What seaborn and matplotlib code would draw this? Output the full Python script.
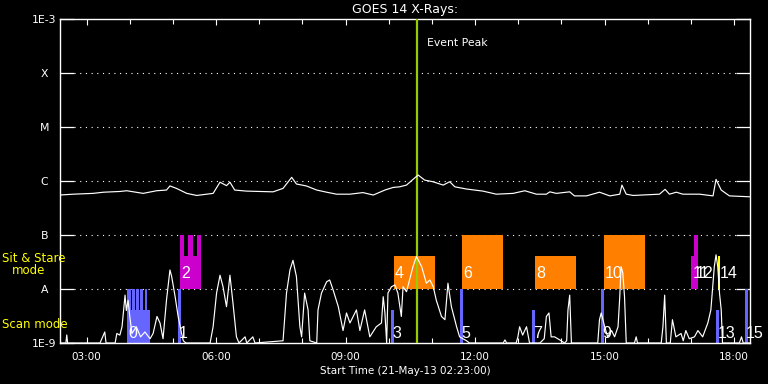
import numpy as np
import pandas as pd
import matplotlib
matplotlib.use("Agg")
import matplotlib.pyplot as plt
from matplotlib.ticker import FixedLocator, NullLocator
import seaborn as sns

# ---------------- data ----------------
# GOES long channel (decimal hours, W/m^2)
long_time = [2.38, 2.69, 3.15, 3.39, 3.77, 3.93, 4.31, 4.62, 4.85, 4.93, 5.08, 5.32, 5.55,
             5.93, 6.09, 6.24, 6.32, 6.43, 6.70, 7.32, 7.55, 7.75, 7.86, 8.09, 8.33, 8.56,
             8.79, 9.10, 9.40, 9.64, 9.91, 10.10, 10.25, 10.41, 10.56, 10.68, 10.83, 11.02,
             11.26, 11.41, 11.53, 11.80, 12.18, 12.49, 12.88, 13.15, 13.42, 13.65, 13.73,
             13.88, 14.19, 14.30, 14.58, 14.88, 15.12, 15.35, 15.40, 15.50, 15.66, 16.27,
             16.40, 16.50, 16.66, 16.81, 17.20, 17.51, 17.58, 17.70, 17.89, 18.36]
long_flux = [5.5e-7, 5.7e-7, 5.9e-7, 6.2e-7, 6.4e-7, 6.6e-7, 5.9e-7, 6.6e-7, 6.8e-7, 8.1e-7,
             7.3e-7, 5.9e-7, 5.4e-7, 5.9e-7, 9.5e-7, 8.2e-7, 9.5e-7, 6.8e-7, 6.5e-7, 6.3e-7,
             7.3e-7, 1.17e-6, 8.8e-7, 8.1e-7, 6.8e-7, 6.2e-7, 5.7e-7, 5.7e-7, 6.1e-7, 5.5e-7,
             6.8e-7, 7.6e-7, 7.8e-7, 8.4e-7, 1.07e-6, 1.29e-6, 1.04e-6, 9.7e-7, 8.4e-7, 9.7e-7,
             7.8e-7, 7.1e-7, 6.5e-7, 5.7e-7, 5.9e-7, 6.6e-7, 5.7e-7, 5.7e-7, 6.3e-7, 5.9e-7,
             6.3e-7, 5.3e-7, 5.3e-7, 6.2e-7, 5.3e-7, 5.7e-7, 8.4e-7, 5.7e-7, 5.4e-7, 5.7e-7,
             7.0e-7, 5.7e-7, 6.2e-7, 5.7e-7, 5.7e-7, 5.3e-7, 1.07e-6, 6.8e-7, 5.3e-7, 5.1e-7]

# GOES short channel
short_time = [2.38, 2.52, 2.54, 2.56, 3.31, 3.42, 3.45, 3.66, 3.70, 3.77, 3.82, 3.89, 3.92,
              3.96, 4.00, 4.05, 4.15, 4.25, 4.35, 4.47, 4.54, 4.63, 4.70, 4.77, 4.85, 4.93,
              4.97, 5.05, 5.12, 5.20, 5.24, 5.30, 5.86, 5.93, 6.01, 6.09, 6.16, 6.24, 6.32,
              6.39, 6.47, 6.53, 6.67, 6.71, 6.85, 6.90, 7.55, 7.63, 7.71, 7.78, 7.86, 7.94,
              7.98, 8.05, 8.13, 8.17, 8.33, 8.36, 8.44, 8.56, 8.63, 8.71, 8.83, 8.94, 9.02,
              9.10, 9.25, 9.33, 9.44, 9.56, 9.71, 9.83, 9.87, 9.91, 9.95, 9.98, 10.06, 10.14,
              10.21, 10.29, 10.33, 10.41, 10.48, 10.56, 10.64, 10.76, 10.87, 10.95, 11.03,
              11.10, 11.22, 11.30, 11.37, 11.45, 11.57, 11.64, 11.80, 11.87, 12.65, 12.69,
              12.73, 12.95, 12.99, 13.03, 13.10, 13.19, 13.26, 13.50, 13.60, 13.65, 13.71,
              13.76, 13.84, 13.96, 14.07, 14.12, 14.15, 14.19, 14.23, 14.84, 14.88, 14.92,
              15.00, 15.07, 15.16, 15.23, 15.31, 15.35, 15.38, 15.42, 15.46, 15.50, 15.69,
              15.73, 15.76, 16.31, 16.35, 16.39, 16.43, 16.52, 16.57, 16.65, 16.77, 16.82,
              16.88, 16.96, 17.08, 17.16, 17.27, 17.39, 17.46, 17.54, 17.58, 17.62, 17.66,
              17.70, 17.73, 18.12, 18.17, 18.21, 18.37]
short_flux = [1e-9, 1e-9, 1.41e-9, 1e-9, 1e-9, 1.6e-9, 1e-9, 1e-9, 1.5e-9, 1.4e-9, 2.0e-9,
              7.7e-9, 4.0e-9, 6.2e-9, 3.1e-9, 1.5e-9, 2.0e-9, 1.3e-9, 1.6e-9, 1.2e-9, 1.5e-9,
              3.1e-9, 2.35e-9, 1.2e-9, 6.2e-9, 2.25e-8, 1.7e-8, 7.2e-9, 3.1e-9, 1.5e-9,
              1.1e-9, 1e-9, 1e-9, 2.0e-9, 8.4e-9, 1.8e-8, 1.1e-8, 4.7e-9, 1.8e-8, 5.5e-9,
              1.3e-9, 1e-9, 1.3e-9, 1e-9, 1.3e-9, 1e-9, 1.1e-9, 8.4e-9, 2.25e-8, 3.4e-8,
              1.7e-8, 2.0e-9, 1.3e-9, 8.4e-9, 4.1e-9, 1.1e-9, 1e-9, 4.1e-9, 8.4e-9, 1.36e-8,
              1.47e-8, 9.6e-9, 4.7e-9, 1.7e-9, 3.6e-9, 2.35e-9, 4.1e-9, 1.7e-9, 4.1e-9,
              1.3e-9, 2.0e-9, 2.35e-9, 7.2e-9, 3.6e-9, 1e-9, 8.4e-9, 1.1e-8, 1.19e-8, 8.4e-9,
              3.1e-9, 1.1e-8, 8.9e-9, 1.47e-8, 2.6e-8, 4.0e-8, 2.6e-8, 1.28e-8, 1.47e-8,
              1.1e-8, 6.2e-9, 3.1e-9, 2.7e-9, 1.28e-8, 4.7e-9, 2.0e-9, 1.3e-9, 1.1e-9, 1e-9,
              1e-9, 1.14e-9, 1e-9, 1e-9, 1.3e-9, 2.0e-9, 1.4e-9, 2.0e-9, 1e-9, 1e-9, 1.2e-9,
              3.1e-9, 3.6e-9, 1.3e-9, 1.3e-9, 1.14e-9, 1e-9, 1.1e-9, 4.1e-9, 7.7e-9, 1e-9,
              1e-9, 2.7e-9, 3.6e-9, 2.0e-9, 1.3e-9, 1.7e-9, 1.3e-9, 2.0e-9, 7.2e-9, 2.6e-8,
              2.0e-8, 7.2e-9, 1e-9, 1e-9, 1.3e-9, 1e-9, 1e-9, 2.0e-9, 7.7e-9, 1e-9, 1e-9,
              2.7e-9, 1.3e-9, 1.5e-9, 1.1e-9, 1.7e-9, 1.2e-9, 1.3e-9, 1.7e-9, 1.3e-9, 2.35e-9,
              4.1e-9, 2.6e-8, 4.3e-8, 2.6e-8, 8.4e-9, 4.1e-9, 1e-9, 1e-9, 1.3e-9, 1e-9, 1e-9]

# observation segments (start, end in decimal hours; flux range of the box)
seg_start = [3.934, 3.934, 4.050, 4.143, 4.235, 4.344, 5.115, 5.161, 5.161, 5.346, 5.548,
             10.045, 10.115, 11.643, 11.689, 13.309, 13.378, 14.907, 14.976, 17.005,
             17.074, 17.583, 17.630, 18.240]
seg_end = [4.467, 4.020, 4.113, 4.205, 4.298, 4.404, 5.184, 5.647, 5.254, 5.455, 5.647,
           10.115, 11.064, 11.713, 12.638, 13.378, 14.328, 14.976, 15.925, 17.074,
           17.166, 17.652, 17.680, 18.310]
seg_low = [1e-9, 4.1e-9, 4.1e-9, 4.1e-9, 4.1e-9, 4.1e-9, 1e-9, 1e-8, 4.1e-8, 4.1e-8, 4.1e-8,
           1e-9, 1e-8, 1e-9, 1e-8, 1e-9, 1e-8, 1e-9, 1e-8, 1e-8, 1e-8, 1e-9, 1e-8, 1e-9]
seg_high = [4.1e-9, 1e-8, 1e-8, 1e-8, 1e-8, 1e-8, 1e-8, 4.1e-8, 1e-7, 1e-7, 1e-7,
            4.1e-9, 4.1e-8, 1e-8, 1e-7, 4.1e-9, 4.1e-8, 1e-8, 1e-7, 4.1e-8, 1e-7,
            4.1e-9, 4.1e-8, 1e-8]
seg_kind = ["scan"] * 7 + ["sns_m"] * 4 + ["scan", "sns", "scan", "sns", "scan", "sns",
            "scan", "sns", "sns_m", "sns_m", "scan", "sns_y", "scan"]

label_text = ["0", "1", "2", "3", "4", "5", "6", "7", "8", "9", "10", "11", "12", "13", "14", "15"]
label_time = [3.934, 5.115, 5.161, 10.045, 10.115, 11.643, 11.689, 13.309, 13.378, 14.907,
              14.976, 17.005, 17.074, 17.583, 17.630, 18.240]
label_mode = ["scan", "scan", "sns", "scan", "sns", "scan", "sns", "scan", "sns", "scan",
              "sns", "sns", "sns", "scan", "sns", "scan"]

peak_time = 10.65
t_start, t_end = 2 + 23 / 60, 18 + 22 / 60
class_levels = [1e-9, 1e-8, 1e-7, 1e-6, 1e-5, 1e-4, 1e-3]
class_labels = ["1E-9", "A", "B", "C", "M", "X", "1E-3"]
grid_levels = [1e-8, 1e-7, 1e-6, 1e-5, 1e-4]
major_hours = [3, 6, 9, 12, 15, 18]
minor_hours = [4, 5, 7, 8, 10, 11, 13, 14, 16, 17]

kind_color = {"scan": "#6666ff", "sns": "#ff8000", "sns_m": "#cc00cc", "sns_y": "#ffff00"}

# ---------------- plot ----------------
sns.set_style("dark")
plt.rcParams.update({
    "font.family": ["DejaVu Sans"],
    "axes.facecolor": "black",
    "figure.facecolor": "black",
    "text.color": "white",
    "axes.edgecolor": "white",
    "xtick.color": "white",
    "ytick.color": "white",
    "axes.grid": False,
    "lines.scale_dashes": False,
})

fig = plt.figure(figsize=(7.68, 3.84), dpi=100, facecolor="black")
ax = fig.add_axes([60 / 768, 41 / 384, 690 / 768, 324 / 384])
ax.set_facecolor("black")
ax.set_yscale("log")
ax.set_xlim(t_start, t_end)
ax.set_ylim(1e-9, 1e-3)

# observation boxes
seg = pd.DataFrame({"start": seg_start, "end": seg_end, "low": seg_low,
                    "high": seg_high, "kind": seg_kind})
for _, r in seg.iterrows():
    ax.bar(r["start"], r["high"] - r["low"], bottom=r["low"], width=r["end"] - r["start"],
           align="edge", color=kind_color[r["kind"]], linewidth=0, zorder=2)

# dotted class grid (between the inner ticks)
ax.hlines(grid_levels, 14 / 690, 676 / 690, transform=ax.get_yaxis_transform(),
          colors="white", linewidth=0.8, linestyles=[(0, (0.8, 3.3))], zorder=1)

# event peak
ax.axvline(peak_time, color="#99cc00", linewidth=1.6, zorder=4)
ax.annotate("Event Peak", xy=(peak_time, 1), xycoords=("data", "axes fraction"),
            xytext=(7.5, -17.5), textcoords="offset points", ha="left", va="center",
            color="white", fontsize=7.8)

# GOES curves
df_long = pd.DataFrame({"time": long_time, "flux": long_flux})
df_short = pd.DataFrame({"time": short_time, "flux": short_flux})
sns.lineplot(data=df_long, x="time", y="flux", ax=ax, color="white", linewidth=0.85,
             estimator=None, sort=False, legend=False, zorder=5)
sns.lineplot(data=df_short, x="time", y="flux", ax=ax, color="white", linewidth=0.85,
             estimator=None, sort=False, legend=False, zorder=5)

# observation labels
for txt, t, mode in zip(label_text, label_time, label_mode):
    yv = 1.22e-9 if mode == "scan" else 1.58e-8
    ax.text(t + 0.03, yv, txt, color="white", fontsize=11.5, ha="left", va="baseline",
            family=["Liberation Sans", "DejaVu Sans"], zorder=6, clip_on=False)

# axes styling
for s in ax.spines.values():
    s.set_color("white")
    s.set_linewidth(1.0)
ax.xaxis.set_major_locator(FixedLocator(major_hours))
ax.xaxis.set_minor_locator(FixedLocator(minor_hours))
ax.set_xticklabels([f"{h:02d}:00" for h in major_hours])
ax.yaxis.set_major_locator(FixedLocator(class_levels))
ax.yaxis.set_minor_locator(NullLocator())
ax.set_yticklabels(class_labels)
ax.tick_params(axis="x", which="major", direction="in", length=4.5, width=0.8,
               top=True, bottom=True, pad=6.3, labelsize=7.5, labelcolor="white")
ax.tick_params(axis="x", which="minor", direction="in", length=3.3, width=0.8,
               top=True, bottom=True)
ax.tick_params(axis="y", which="major", direction="in", length=10, width=0.9,
               left=True, right=True, pad=11.2, labelsize=7.8, labelcolor="white")
for lab in ax.get_yticklabels():
    lab.set_horizontalalignment("center")

ax.set_xlabel("Start Time (21-May-13 02:23:00)", color="white", fontsize=7.5, labelpad=3)
ax.set_ylabel("")
ax.set_title("GOES 14 X-Rays:", color="white", fontsize=9, pad=4)

fig.text(2 / 768, 1 - 259 / 384, "Sit & Stare", color="#ffff00", fontsize=8.5,
         ha="left", va="center")
fig.text(12 / 768, 1 - 271 / 384, "mode", color="#ffff00", fontsize=8.5,
         ha="left", va="center")
fig.text(2 / 768, 1 - 324 / 384, "Scan mode", color="#ffff00", fontsize=8.5,
         ha="left", va="center")

fig.savefig("out.png", dpi=100, facecolor="black")
